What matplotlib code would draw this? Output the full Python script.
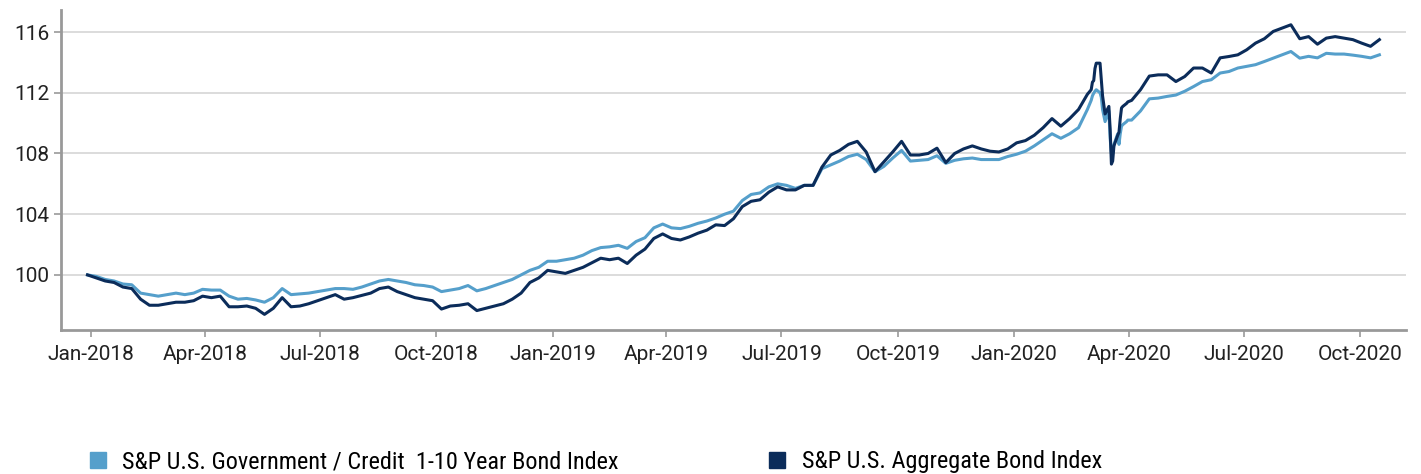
import matplotlib
matplotlib.use("Agg")
import matplotlib.pyplot as plt
import matplotlib.dates as mdates
from matplotlib.lines import Line2D
import pandas as pd

# values (weekly, daily in March 2020)
gov_pre = [100.0, 99.9, 99.7, 99.6, 99.4, 99.35, 98.8, 98.7, 98.6, 98.7, 98.8, 98.7, 98.8, 99.05, 99.0,
           99.0, 98.6, 98.4, 98.45, 98.35, 98.2, 98.5, 99.1, 98.7, 98.75, 98.8, 98.9, 99.0, 99.1,
           99.1, 99.05, 99.2, 99.4, 99.6, 99.7, 99.6, 99.5, 99.35, 99.3, 99.2, 98.9, 99.0, 99.1, 99.3,
           98.95, 99.1, 99.3, 99.5, 99.7, 100.0, 100.3, 100.5, 100.9, 100.9, 101.0, 101.1, 101.3, 101.6, 101.8,
           101.85, 101.95, 101.75, 102.2, 102.45, 103.1, 103.35, 103.1, 103.05, 103.2, 103.4, 103.55, 103.75,
           104.0, 104.2, 104.9, 105.3, 105.4, 105.8, 106.0, 105.9, 105.7, 105.9, 105.9, 107.0, 107.25, 107.5,
           107.8, 107.95, 107.6, 106.8, 107.15, 107.7, 108.2, 107.5, 107.55, 107.6, 107.85, 107.35, 107.55,
           107.65, 107.7, 107.6, 107.6, 107.6, 107.8, 107.95, 108.15, 108.5, 108.9, 109.3, 109.0, 109.3, 109.7, 110.9]
agg_pre = [100.0, 99.8, 99.6, 99.5, 99.2, 99.1, 98.4, 98.0, 98.0, 98.1, 98.2, 98.2, 98.3, 98.6, 98.5,
           98.6, 97.9, 97.9, 97.95, 97.8, 97.4, 97.8, 98.5, 97.9, 97.95, 98.1, 98.3, 98.5, 98.7,
           98.4, 98.5, 98.65, 98.8, 99.1, 99.2, 98.9, 98.7, 98.5, 98.4, 98.3, 97.75, 97.95, 98.0, 98.1,
           97.65, 97.8, 97.95, 98.1, 98.4, 98.8, 99.5, 99.8, 100.3, 100.2, 100.1, 100.3, 100.5, 100.8, 101.1,
           101.0, 101.1, 100.75, 101.3, 101.7, 102.4, 102.7, 102.4, 102.3, 102.5, 102.75, 102.95, 103.3,
           103.25, 103.7, 104.5, 104.85, 104.95, 105.45, 105.8, 105.6, 105.6, 105.9, 105.9, 107.1, 107.9, 108.2,
           108.6, 108.8, 108.1, 106.8, 107.45, 108.1, 108.8, 107.9, 107.9, 108.0, 108.35, 107.4, 108.0,
           108.3, 108.5, 108.3, 108.15, 108.1, 108.3, 108.7, 108.85, 109.2, 109.7, 110.3, 109.8, 110.3, 110.9, 111.9]

gov_mar20 = [111.5, 111.8, 111.97, 112.1, 112.2, 112.0, 111.7, 110.9, 110.5, 110.1, 110.8,
             109.0, 108.0, 108.0, 108.6, 109.3, 108.6, 109.3, 109.8, 109.9, 110.1, 110.2]
agg_mar20 = [112.2, 112.7, 112.8, 113.6, 113.95, 113.95, 112.9, 111.8, 111.2, 110.6, 111.1,
             109.6, 107.3, 107.5, 108.5, 109.2, 109.4, 110.3, 111.0, 111.1, 111.3, 111.4]

gov_post = [110.2, 110.8, 111.6, 111.65, 111.76, 111.85, 112.1, 112.41, 112.74, 112.86, 113.3, 113.4,
            113.63, 113.74, 113.85, 114.06, 114.28, 114.5, 114.72, 114.28, 114.4, 114.3, 114.6, 114.55,
            114.55, 114.48, 114.4, 114.3, 114.5]
agg_post = [111.5, 112.2, 113.1, 113.18, 113.18, 112.74, 113.07, 113.63, 113.63, 113.3, 114.3, 114.39,
            114.5, 114.83, 115.27, 115.56, 116.04, 116.26, 116.48, 115.56, 115.7, 115.2, 115.6, 115.7,
            115.6, 115.5, 115.27, 115.06, 115.5]

dates = (pd.date_range("2017-12-29", "2020-02-28", freq="7D")
         .append(pd.bdate_range("2020-03-02", "2020-03-31"))
         .append(pd.date_range("2020-04-03", "2020-10-16", freq="7D")))
gov = gov_pre + gov_mar20 + gov_post
agg = agg_pre + agg_mar20 + agg_post

labels = ["S&P U.S. Government / Credit  1-10 Year Bond Index", "S&P U.S. Aggregate Bond Index"]
colors = ["#559fcb", "#0b2c5a"]

plt.rcParams["font.family"] = ["Roboto", "DejaVu Sans"]

fig = plt.figure(figsize=(14.21, 4.74), dpi=100)
ax = fig.add_axes([0.0429, 0.3038, 0.9465, 0.675])

ax.plot(dates, gov, color=colors[0], lw=2.2, zorder=3)
ax.plot(dates, agg, color=colors[1], lw=2.2, zorder=4)

ax.set_xlim(pd.Timestamp("2017-12-08"), pd.Timestamp("2020-11-06"))
ax.set_ylim(96.37, 117.45)
ax.set_yticks([100, 104, 108, 112, 116])
ax.xaxis.set_major_locator(mdates.MonthLocator(bymonth=[1, 4, 7, 10]))
ax.xaxis.set_major_formatter(mdates.DateFormatter("%b-%Y"))

ax.grid(axis="y", color="#d9d9d9", lw=1.3, zorder=0)
for s in ["top", "right"]:
    ax.spines[s].set_visible(False)
for s in ["left", "bottom"]:
    ax.spines[s].set_color("#999999")
    ax.spines[s].set_linewidth(2)
ax.tick_params(axis="both", colors="#999999", labelcolor="#222222", labelsize=15,
               length=5, width=1.2)
ax.tick_params(axis="x", pad=6)

# legend below, one entry per box
for lab, col, xpos in zip(labels, colors, [0.046, 0.524]):
    h = Line2D([], [], ls="none", marker="s", markersize=11.5, color=col)
    fig.legend([h], [lab], loc="center left", bbox_to_anchor=(xpos, 0.026), frameon=False,
               handlelength=0.9, handletextpad=0.55,
               prop={"family": ["Liberation Sans Narrow", "Roboto Condensed", "DejaVu Sans"], "size": 17.5})

fig.savefig("out.png", dpi=100)
